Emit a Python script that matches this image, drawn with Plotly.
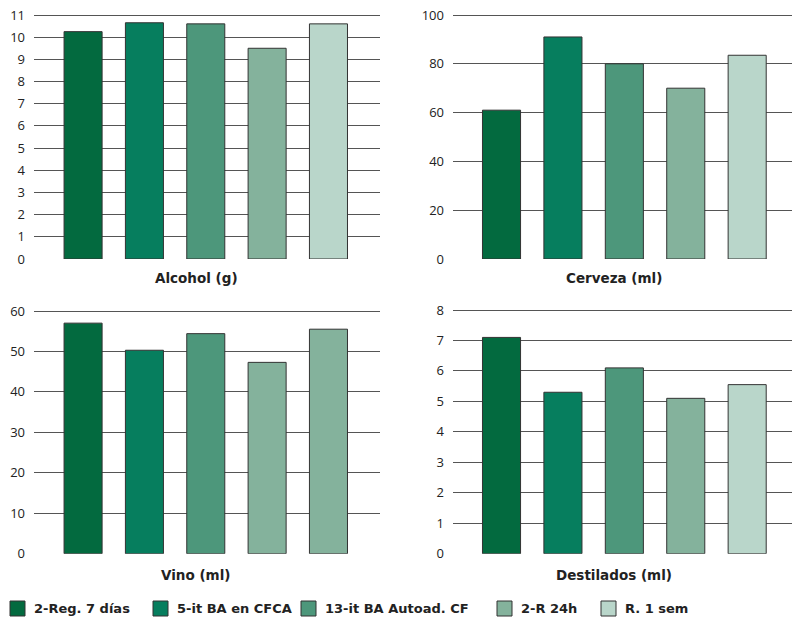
import plotly.graph_objects as go

series = ["2-Reg. 7 días", "5-it BA en CFCA", "13-it BA Autoad. CF", "2-R 24h", "R. 1 sem"]
alcohol = [10.25, 10.65, 10.6, 9.5, 10.6]
cerveza = [61, 91, 80, 70, 83.5]
vino = [57, 50.3, 54.4, 47.3, 55.5]
destilados = [7.1, 5.3, 6.1, 5.1, 5.55]
y_max = [11, 100, 60, 8]
y_step = [1, 20, 10, 1]
panel_titles = ["Alcohol (g)", "Cerveza (ml)", "Vino (ml)", "Destilados (ml)"]
colors = ["#036a3f", "#067e5e", "#4d977b", "#84b29c", "#b9d6ca"]
vino_colors = ["#036a3f", "#067e5e", "#4d977b", "#84b29c", "#84b29c"]

# the page's body margin is removed below, so the figure fills the window
W, H = 792, 618
def fx(px): return px / W
def fy(py): return 1 - py / H

PAD = 4  # extra px above the top gridline so it is not clipped
panels = [
    dict(vals=alcohol, cols=colors, xa="x", ya="y", xl=34, xr_px=380, yb=259, yt=15, xr=[-0.8, 4.84], tx=196, ty=278),
    dict(vals=cerveza, cols=colors, xa="x2", ya="y2", xl=453, xr_px=792, yb=259, yt=15, xr=[-0.79, 4.73], tx=614, ty=278),
    dict(vals=vino, cols=vino_colors, xa="x3", ya="y3", xl=34, xr_px=380, yb=553.7, yt=311, xr=[-0.8, 4.84], tx=195, ty=575),
    dict(vals=destilados, cols=colors, xa="x4", ya="y4", xl=453, xr_px=792, yb=553.7, yt=310, xr=[-0.79, 4.73], tx=614, ty=575),
]

TICKFONT = "'Open Sans', 'Noto Sans', sans-serif"
BOLDFONT = "'DejaVu Sans', 'Open Sans', sans-serif"

fig = go.Figure()
for p_i, p in enumerate(panels):
    for i, name in enumerate(series):
        fig.add_trace(go.Bar(
            x=[name], y=[p["vals"][i]], name=name, legendgroup=name,
            showlegend=False, width=0.62,
            marker=dict(color=p["cols"][i], line=dict(color="#333333", width=1)),
            xaxis=p["xa"], yaxis=p["ya"],
        ))

layout = dict(
    width=W, height=H, margin=dict(l=0, r=0, t=0, b=0, autoexpand=False),
    paper_bgcolor="white", plot_bgcolor="white", barmode="overlay",
    font=dict(family=TICKFONT, size=13, color="#222222"),
    showlegend=False,
    annotations=[], shapes=[],
)
for k, p in enumerate(panels):
    suffix = "" if k == 0 else str(k + 1)
    ymax = y_max[k]
    scale = ymax / (p["yb"] - p["yt"])
    top_val = ymax + PAD * scale
    layout["xaxis" + suffix] = dict(domain=[fx(p["xl"]), min(1.0, fx(p["xr_px"]))], range=p["xr"],
                                    showticklabels=False,
                                    showgrid=False, zeroline=False, showline=False, ticks="",
                                    anchor=p["ya"], fixedrange=True, type="category", automargin=False)
    layout["yaxis" + suffix] = dict(domain=[fy(p["yb"]), fy(p["yt"] - PAD)], range=[0, top_val],
                                    tickmode="array",
                                    tickvals=list(range(0, ymax + 1, y_step[k])),
                                    showgrid=True, gridcolor="#555555", gridwidth=1,
                                    zeroline=False, showline=False, ticks="",
                                    ticklabelstandoff=8, automargin=False,
                                    ticklabeloverflow="allow",
                                    anchor=p["xa"], fixedrange=True,
                                    tickfont=dict(size=13, color="#222222", family=TICKFONT))
    layout["annotations"].append(dict(text="<b>%s</b>" % panel_titles[k], x=fx(p["tx"]), y=fy(p["ty"]),
                                      xref="paper", yref="paper", showarrow=False,
                                      xanchor="center", yanchor="middle",
                                      font=dict(size=13.5, color="#222222", family=BOLDFONT)))

# legend (drawn by hand to match the reference spacing)
leg_sq_x = [10, 153, 301, 497, 601]
for i, name in enumerate(series):
    x0 = leg_sq_x[i]
    layout["shapes"].append(dict(type="rect", xref="paper", yref="paper",
                                 x0=fx(x0), x1=fx(x0 + 15), y0=fy(616), y1=fy(601),
                                 fillcolor=colors[i], line=dict(color="#333333", width=1)))
    layout["annotations"].append(dict(text="<b>%s</b>" % name, x=fx(x0 + 22), y=fy(608.5),
                                      xref="paper", yref="paper", showarrow=False,
                                      xanchor="left", yanchor="middle",
                                      font=dict(size=13, color="#222222", family=BOLDFONT)))

fig.update_layout(**layout)
fig.write_html("out.html", config={"displayModeBar": False},
               post_script="document.body.style.margin='0';document.body.style.overflow='hidden';")
